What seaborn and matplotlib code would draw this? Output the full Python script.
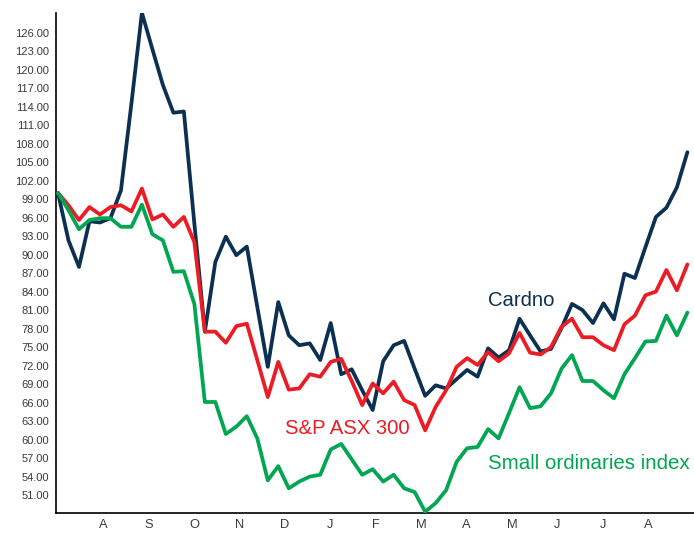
import numpy as np
import pandas as pd
import matplotlib
matplotlib.use("Agg")
import matplotlib.pyplot as plt
import seaborn as sns

# ---- data (weekly, rebased to 100) ----
cardno = [100.0, 92.3, 88.0, 95.4, 95.2, 95.9, 100.4, 114.5, 129.2, 123.3,
          117.5, 113.0, 113.2, 95.0, 77.5, 88.8, 92.9, 89.9, 91.3, 81.5,
          71.8, 82.3, 76.9, 75.3, 75.6, 72.9, 78.9, 70.6, 71.4, 68.0,
          64.8, 72.7, 75.3, 76.0, 71.5, 67.1, 68.8, 68.3, 69.8, 71.3,
          70.2, 74.8, 73.3, 74.5, 79.6, 76.9, 74.3, 74.7, 78.1, 82.0,
          81.0, 78.9, 82.1, 79.5, 86.9, 86.2, 91.2, 96.1, 97.6, 100.9,
          106.6]
asx300 = [100.0, 98.0, 95.6, 97.7, 96.5, 97.7, 98.0, 97.0, 100.7, 95.7,
          96.5, 94.5, 96.1, 92.0, 77.5, 77.5, 75.7, 78.4, 78.8, 72.9,
          66.9, 72.6, 68.1, 68.3, 70.6, 70.2, 72.6, 73.1, 69.5, 65.6,
          69.1, 67.5, 69.4, 66.4, 65.6, 61.5, 65.3, 68.0, 71.8, 73.2,
          72.1, 74.2, 72.7, 74.0, 77.3, 74.1, 73.8, 75.0, 78.3, 79.6,
          76.6, 76.6, 75.3, 74.5, 78.7, 80.1, 83.4, 84.0, 87.5, 84.2,
          88.4]
small_ords = [100.0, 97.2, 94.1, 95.6, 95.9, 95.9, 94.5, 94.5, 98.1, 93.3,
              92.3, 87.2, 87.3, 82.0, 66.1, 66.1, 60.9, 62.1, 63.8, 60.2,
              53.4, 55.7, 52.1, 53.2, 54.0, 54.3, 58.4, 59.3, 56.8, 54.3,
              55.2, 53.2, 54.3, 52.1, 51.5, 48.3, 49.7, 51.8, 56.4, 58.6,
              58.8, 61.7, 60.2, 64.3, 68.5, 65.1, 65.4, 67.5, 71.5, 73.7,
              69.5, 69.5, 68.0, 66.7, 70.6, 73.2, 75.9, 76.0, 80.1, 76.9,
              80.6]
month_labels = ["A", "S", "O", "N", "D", "J", "F", "M", "A", "M", "J", "J", "A"]
series_names = ["Cardno", "S&P ASX 300", "Small ordinaries index"]
y_ticks = np.arange(51, 127, 3)

colors = {"Cardno": "#0b3052", "S&P ASX 300": "#ec1c24",
          "Small ordinaries index": "#00a651"}

weeks = np.arange(len(cardno))
df = pd.DataFrame({
    "week": np.concatenate([weeks, weeks, weeks]),
    "value": np.concatenate([cardno, asx300, small_ords]),
    "series": np.repeat(series_names, len(weeks)),
})

sns.set_style("white")
plt.rcParams["font.family"] = ["Liberation Sans", "DejaVu Sans"]

fig = plt.figure(figsize=(6.94, 5.33), dpi=100)
ax = fig.add_axes([56 / 694, 20 / 533, 1 - 56 / 694, 500.5 / 533])

sns.lineplot(data=df, x="week", y="value", hue="series",
             hue_order=series_names, palette=colors, linewidth=2.7,
             legend=False, ax=ax, zorder=3)

ax.set_xlim(-0.19, 60.63)
ax.set_ylim(48.1, 129.25)

ax.set_yticks(y_ticks)
ax.set_yticklabels([f"{v:.2f}" for v in y_ticks])
month_pos = 4.3 + 4.33 * np.arange(len(month_labels))
ax.set_xticks(month_pos)
ax.set_xticklabels(month_labels)
ax.tick_params(axis="y", length=0, pad=4.8, labelsize=8, labelcolor="#3a3a3a")
ax.tick_params(axis="x", length=0, pad=4.5, labelsize=9.3, labelcolor="#3a3a3a")
ax.set_xlabel("")
ax.set_ylabel("")

for s in ["top", "right"]:
    ax.spines[s].set_visible(False)
for s in ["left", "bottom"]:
    ax.spines[s].set_color("black")
    ax.spines[s].set_linewidth(1.2)
ax.grid(False)

ax.text(41.0, 81.6, "Cardno", color=colors["Cardno"], fontsize=14.6,
        ha="left", va="baseline")
ax.text(21.64, 60.9, "S&P ASX 300", color=colors["S&P ASX 300"],
        fontsize=14.6, ha="left", va="baseline")
ax.text(41.0, 55.3, "Small ordinaries index",
        color=colors["Small ordinaries index"], fontsize=14.8,
        ha="left", va="baseline")

fig.savefig("out.png", dpi=100)
